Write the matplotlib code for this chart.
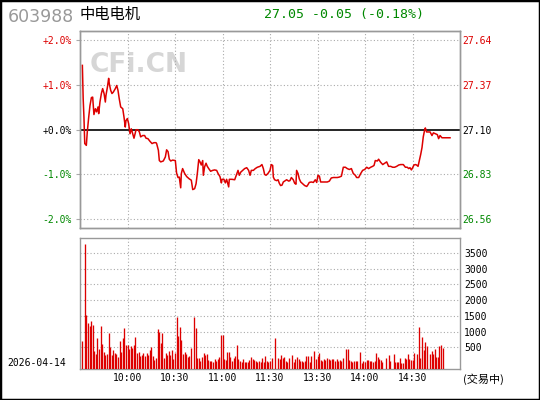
import numpy as np
import matplotlib.pyplot as plt
from matplotlib.patches import Rectangle

# --------- header info ---------- #
code = '603988'
name = '中电电机'
prev_close = 27.10
last_price = 27.05
change = -0.05
change_pct = -0.18
date_str = '2026-04-14'
status = '(交易中)'

# minutes since 9:30 (11:30/13:00 joined at 120), price change in %
pct_times = [1.5, 2.0, 2.5, 3.0, 4.0, 4.6, 5.5, 6.3, 7.2, 8.0,
             8.4, 8.8, 9.7, 10.5, 11.4, 11.8, 12.6, 13.5, 14.3, 15.2,
             16.0, 16.4, 17.3, 18.1, 18.5, 19.4, 20.2, 21.0, 22.3, 23.2,
             24.0, 24.8, 25.7, 27.0, 27.8, 28.6, 29.0, 29.9, 30.7, 31.6,
             32.4, 33.3, 34.1, 35.4, 36.6, 37.5, 38.3, 39.6, 40.8, 41.7,
             42.9, 44.2, 45.5, 46.7, 48.0,
             48.4, 49.5, 50.1, 51.0, 52.6, 53.9, 54.7, 55.6, 56.4, 57.3,
             58.5, 60.2, 61.0, 61.9, 62.7, 63.6, 64.0, 64.8, 66.1, 67.4,
             69.0, 70.3, 71.2, 72.4, 73.3, 74.1, 75.0, 75.8, 76.6, 77.5,
             77.9, 78.7, 79.6, 80.4, 81.3, 82.5, 83.8, 85.0, 86.3, 87.2,
             88.4, 89.3, 89.7, 90.9, 91.8, 92.6, 93.9, 94.3, 96.0, 97.7,
             98.9, 99.8, 100.6, 101.5, 102.7, 104.0, 105.3, 106.5, 107.4, 108.2,
             109.5, 110.7, 112.0, 113.7, 114.9, 115.8, 116.6, 117.5, 118.7, 120.0,
             120.8, 121.7, 122.1, 122.9, 124.2, 125.1, 125.9, 126.7, 127.6, 128.4,
             129.7, 130.5, 131.8, 132.6, 133.5, 134.7, 135.6, 136.4, 136.8, 137.7,
             138.5, 139.4, 140.6, 141.9, 143.2, 144.0, 144.8, 146.1, 147.4, 148.6,
             149.5, 150.3, 151.2, 152.0, 153.3, 154.5, 156.2, 157.5, 158.7, 160.0,
             161.3, 162.5, 163.8, 165.1, 166.3, 167.6, 168.8, 170.1, 171.4, 172.6,
             173.9, 174.7, 176.0, 177.3, 178.5, 179.8, 181.1, 182.3, 183.6, 184.8,
             185.7, 186.5, 187.8, 188.6, 189.9, 191.2, 192.4, 193.7, 194.9, 196.2,
             197.5, 198.7, 200.0, 201.3, 202.5, 204.2, 205.5, 206.7, 207.6, 208.4,
             209.3, 210.1, 210.9, 211.8, 212.6, 213.5, 214.3, 215.2, 216.0, 216.8,
             217.7, 218.1, 218.9, 220.2, 221.1, 222.3, 223.2, 224.4, 225.7, 226.5,
             227.4, 228.6, 229.9, 231.6, 233.7]
pct_values = [1.44, 0.70, 0.27, -0.31, -0.35, -0.05, 0.28, 0.54, 0.72, 0.73,
              0.54, 0.34, 0.47, 0.40, 0.51, 0.36, 0.62, 0.81, 0.92, 0.81,
              0.62, 0.77, 0.95, 1.15, 1.03, 0.88, 0.81, 0.84, 0.92, 0.99,
              0.88, 0.69, 0.51, 0.47, 0.28, 0.06, 0.20, 0.25, 0.14, -0.09,
              0.02, -0.09, -0.19, 0.00, 0.00, -0.05, -0.16, -0.13, -0.13, -0.19,
              -0.20, -0.26, -0.31, -0.29, -0.29,
              -0.31, -0.46, -0.69, -0.72, -0.70, -0.61, -0.45, -0.49, -0.66, -0.70,
              -0.68, -0.69, -0.97, -1.07, -1.06, -1.30, -0.98, -0.87, -0.98, -1.05,
              -1.10, -1.13, -1.34, -1.32, -1.21, -0.98, -0.67, -0.72, -0.79, -0.69,
              -1.02, -0.83, -0.75, -0.82, -0.87, -0.93, -0.91, -0.90, -0.91, -0.98,
              -1.05, -1.19, -1.11, -1.11, -1.19, -1.11, -1.28, -1.11, -1.11, -1.12,
              -1.00, -0.91, -1.02, -0.95, -0.91, -0.87, -0.85, -0.91, -1.02, -0.91,
              -0.91, -0.87, -0.84, -0.82, -0.78, -0.87, -1.00, -1.02, -0.98, -0.91,
              -0.78, -0.80, -1.06, -1.12, -1.14, -1.12, -1.20, -1.25, -1.24, -1.17,
              -1.14, -1.12, -1.15, -1.14, -1.07, -1.12, -1.20, -1.22, -0.91, -0.98,
              -1.10, -1.17, -1.21, -1.25, -1.27, -1.23, -1.18, -1.17, -1.18, -1.12,
              -1.18, -1.02, -1.04, -1.17, -1.17, -1.17, -1.17, -1.15, -1.08, -1.07,
              -1.07, -1.07, -1.06, -1.04, -0.84, -0.84, -0.87, -0.89, -0.87, -0.98,
              -1.02, -1.07, -1.07, -0.98, -0.91, -0.89, -0.84, -0.87, -0.84, -0.82,
              -0.80, -0.69, -0.70, -0.66, -0.73, -0.78, -0.75, -0.72, -0.82, -0.82,
              -0.84, -0.84, -0.82, -0.79, -0.78, -0.78, -0.84, -0.84, -0.87, -0.85,
              -0.90, -0.85, -0.79, -0.78, -0.79, -0.82, -0.69, -0.55, -0.40, -0.16,
              0.00, 0.04, -0.05, -0.05, -0.05, -0.13, -0.07, -0.09, -0.11, -0.20,
              -0.13, -0.18, -0.18, -0.18, -0.18]

# volume per minute, starting at minute 1 (0 = no bar)
vol_values = [699, 0, 3790, 1517, 1273, 1177, 1336, 1209, 380, 285,
              795, 444, 1177, 604, 360, 253, 285, 954, 508, 253,
              412, 317, 285, 190, 699, 348, 795, 1113, 572, 572,
              444, 540, 476, 572, 827, 317, 348, 221, 253, 317,
              221, 317, 253, 412, 508, 221, 94, 158, 1082, 986,
              636, 954, 158, 317, 253, 380, 253, 412, 126, 317,
              1464, 858, 1145, 731, 285, 348, 285, 190, 221, 476,
              0, 1464, 1113, 158, 158, 62, 190, 317, 253, 285,
              94, 62, 62, 30, 126, 62, 126, 190, 890, 890,
              126, 94, 348, 348, 190, 62, 158, 221, 572, 126,
              62, 30, 126, 30, 30, 30, 94, 190, 126, 94,
              62, 30, 62, 30, 158, 30, 221, 62, 30, 62,
              158, 0, 795, 0, 158, 126, 253, 158, 190, 62,
              30, 158, 0, 253, 30, 126, 190, 126, 62, 62,
              30, 62, 221, 221, 30, 221, 0, 380, 126, 221,
              317, 94, 62, 126, 94, 158, 126, 94, 126, 126,
              62, 126, 62, 94, 62, 158, 0, 444, 444, 94,
              62, 30, 62, 62, 62, 0, 348, 10, 62, 30,
              94, 94, 62, 62, 30, 62, 317, 190, 126, 94,
              30, 0, 158, 0, 253, 62, 0, 285, 30, 30,
              30, 158, 10, 10, 158, 126, 285, 126, 94, 94,
              317, 0, 285, 1145, 158, 827, 412, 667, 540, 0,
              285, 380, 285, 444, 190, 190, 540, 572, 476]

time_ticks = [30, 60, 90, 120, 150, 180, 210]
time_labels = ['10:00', '10:30', '11:00', '11:30', '13:30', '14:00', '14:30']
pct_ticks = [2, 1, 0, -1, -2]
vol_ticks = [500, 1000, 1500, 2000, 2500, 3000, 3500]

red = '#dd0000'
green = '#008800'
grid_c = '#aaaaaa'
frame_c = '#999999'
mono = 'DejaVu Sans Mono'

fig = plt.figure(figsize=(5.4, 4.0), dpi=100)
ax1 = fig.add_axes([80/540, 1 - 228/400, 380/540, 197/400])
ax2 = fig.add_axes([80/540, 1 - 369.3/400, 380/540, 131.3/400])

pct_lim = (-2.2, 2.21)
vol_lim = (-200, 3970)

# --------- price panel ---------- #
ax1.set_xlim(0, 240)
ax1.set_ylim(*pct_lim)
for k in pct_ticks:
    if k != 0:
        ax1.axhline(k, color=grid_c, lw=0.8, ls=(0, (1, 2)), zorder=1)
for t in time_ticks:
    ax1.axvline(t, color=grid_c, lw=0.8, ls=(0, (1, 2)), zorder=1)
ax1.axhline(0, color='black', lw=1.2, zorder=2)
ax1.text(10/380, (228 - 65)/197, 'CFi.CN', transform=ax1.transAxes, fontsize=19,
         weight='bold', color='#d6d6d6', va='center', ha='left', zorder=0)
ax1.plot(pct_times, pct_values, color=red, lw=1.1, zorder=3)

ax1.set_xticks([])
ax1.set_yticks(pct_ticks)
ax1.set_yticklabels([f'{k:+.1f}%' for k in pct_ticks], family=mono, fontsize=7)
for lab, k in zip(ax1.get_yticklabels(), pct_ticks):
    lab.set_color(red if k > 0 else ('black' if k == 0 else green))
ax1.tick_params(axis='y', length=3, color=grid_c, width=0.8, pad=3)

ax1r = ax1.twinx()
ax1r.set_ylim(prev_close*(1 + pct_lim[0]/100), prev_close*(1 + pct_lim[1]/100))
price_ticks = [prev_close*(1 + k/100) for k in pct_ticks]
ax1r.set_yticks(price_ticks)
ax1r.set_yticklabels([f'{p:.2f}' for p in price_ticks], family=mono, fontsize=7)
for lab, k in zip(ax1r.get_yticklabels(), pct_ticks):
    lab.set_color(red if k > 0 else ('black' if k == 0 else green))
ax1r.tick_params(axis='y', length=0, pad=1.5)

# --------- volume panel ---------- #
ax2.set_xlim(0, 240)
ax2.set_ylim(*vol_lim)
for v in vol_ticks:
    ax2.axhline(v, color=grid_c, lw=0.8, ls=(0, (1, 2)), zorder=1)
for t in time_ticks:
    ax2.axvline(t, color=grid_c, lw=0.8, ls=(0, (1, 2)), zorder=1)
vol = np.array(vol_values)
mins = np.arange(1, len(vol) + 1)
mask = vol > 0
ax2.vlines(mins[mask], vol_lim[0], vol[mask], color=red, lw=0.95, zorder=3)

ax2.set_xticks(time_ticks)
ax2.set_xticklabels(time_labels, family=mono, fontsize=7)
ax2.tick_params(axis='x', length=0, pad=3)
ax2.yaxis.tick_right()
ax2.set_yticks(vol_ticks)
ax2.set_yticklabels([str(v) for v in vol_ticks], family=mono, fontsize=7)
ax2.tick_params(axis='y', length=0, pad=3)

for ax in (ax1, ax1r, ax2):
    for sp in ax.spines.values():
        sp.set_color(frame_c)
        sp.set_linewidth(1)

# --------- texts ---------- #
fig.text(8/540, 1 - 17/400, code, fontsize=12.5, color='#999999', va='center', ha='left')
fig.text(80/540, 1 - 14.5/400, name, fontsize=11, family=['Noto Sans CJK SC', 'DejaVu Sans'],
         va='center', ha='left')
fig.text(264/540, 1 - 14.5/400, f'{last_price:.2f} {change:+.2f} ({change_pct:+.2f}%)',
         family=mono, fontsize=9.5, color=green, va='center', ha='left')
fig.text(7/540, 1 - 363/400, date_str, family=mono, fontsize=7, va='center', ha='left')
fig.text(463/540, 1 - 379/400, status, family=['Noto Sans CJK SC', 'DejaVu Sans'],
         fontsize=8, va='center', ha='left')

fig.patches.append(Rectangle((0, 0), 1, 1, transform=fig.transFigure, fill=False,
                             ec='black', lw=2.5))

fig.savefig('out.png', dpi=100)
